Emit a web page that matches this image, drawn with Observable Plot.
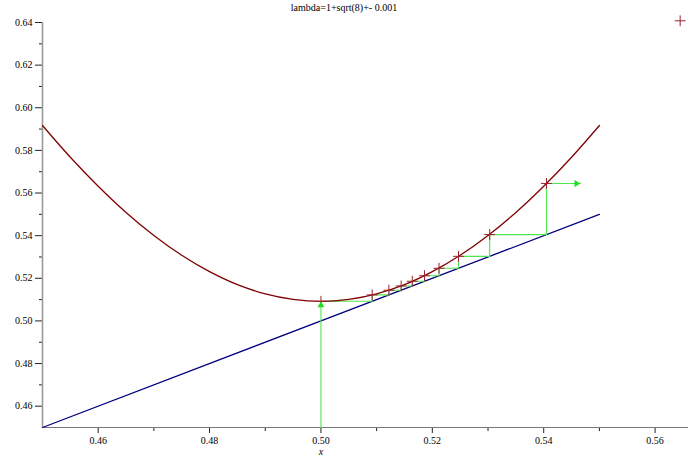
<!DOCTYPE html>
<html>
<head>
<meta charset="utf-8">
<script src="https://cdn.jsdelivr.net/npm/d3@7"></script>
<script src="https://cdn.jsdelivr.net/npm/@observablehq/plot@0.6"></script>
<style>
  html, body { margin: 0; padding: 0; background: white; }
  #wrap { position: relative; width: 688px; height: 462px; font-family: "Liberation Serif", "DejaVu Serif", serif; }
  #title { position: absolute; top: 2px; left: 0; width: 688px; text-align: center; font-size: 10px; color: #000; font-family: "Liberation Serif", "DejaVu Serif", serif; }
  #xlab { position: absolute; top: 446px; left: 316px; width: 10px; text-align: center; font-size: 10px; font-style: italic; color: #000; font-family: "Liberation Serif", "DejaVu Serif", serif; }
  #chart svg { display: block; }
  #chart svg text { font-family: "Liberation Serif", "DejaVu Serif", serif; }
</style>
</head>
<body>
<div id="wrap">
  <div id="chart"></div>
  <div id="title">lambda=1+sqrt(8)+- 0.001</div>
  <div id="xlab">x</div>
</div>
<script>
// Curve (third iterate of the logistic map)
const curveX = [0.45, 0.455, 0.46, 0.465, 0.47, 0.475, 0.48, 0.485, 0.49, 0.495, 0.50,
                0.505, 0.51, 0.515, 0.52, 0.525, 0.53, 0.535, 0.54, 0.545, 0.55];
const curveY = [0.5917, 0.5768, 0.5632, 0.5509, 0.5401, 0.5308, 0.5231, 0.5170, 0.5127, 0.5101, 0.5092,
                0.5101, 0.5127, 0.5170, 0.5231, 0.5308, 0.5401, 0.5509, 0.5632, 0.5768, 0.5917];
// Diagonal y = x
const diagX = [0.45, 0.55];
// Iterates (+ markers) on the curve
const iterX = [0.5, 0.5092, 0.5122, 0.5144, 0.5164, 0.5186, 0.5212, 0.5247, 0.5303, 0.5405, 0.5645];
const iterY = [0.5092, 0.5122, 0.5144, 0.5164, 0.5186, 0.5212, 0.5247, 0.5303, 0.5405, 0.5645, 0.6408];
const cobwebStartY = 0.45;
const lastArrowEndX = 0.5466;
// Ticks
const xMajor = [0.46, 0.48, 0.50, 0.52, 0.54, 0.56];
const xMinor = [0.47, 0.49, 0.51, 0.53, 0.55];
const yMajor = [0.46, 0.48, 0.50, 0.52, 0.54, 0.56, 0.58, 0.60, 0.62, 0.64];
const yMinor = [0.47, 0.49, 0.51, 0.53, 0.55, 0.57, 0.59, 0.61, 0.63];

const curve = curveX.map((x, i) => ({x, y: curveY[i]}));
const diag = diagX.map(x => ({x, y: x}));
const iters = iterX.map((x, i) => ({x, y: iterY[i]}));

// cobweb staircase (without the first vertical arrow and last horizontal arrow)
const cobweb = [];
for (let i = 0; i < iterX.length - 2; i++) {
  cobweb.push({x: iterX[i], y: iterY[i]});
  cobweb.push({x: iterY[i], y: iterY[i]});
  cobweb.push({x: iterX[i + 1], y: iterY[i + 1]});
}
const n = iterX.length - 2;
const firstArrow = [{x: iterX[0], y: cobwebStartY}, {x: iterX[0], y: iterY[0]}];
const lastArrow = [{x: iterX[n], y: iterY[n]}, {x: lastArrowEndX, y: iterY[n]}];

const green = "#4ee64e";
const serif = "'Liberation Serif', 'DejaVu Serif', serif";

const chart = Plot.plot({
  width: 688,
  height: 462,
  marginLeft: 42,
  marginRight: 0,
  marginTop: 22,
  marginBottom: 35,
  x: {domain: [0.45, 0.566], label: null},
  y: {domain: [0.45, 0.64], label: null},
  style: {fontFamily: serif, fontSize: "10px", background: "white", color: "#000"},
  marks: [
    Plot.axisX({ticks: xMajor, tickSize: 6, tickPadding: 3, tickFormat: d3.format(".2f"), label: null, stroke: "#222", fontFamily: serif}),
    Plot.axisX({ticks: xMinor, tickSize: 4, tickFormat: () => "", label: null, stroke: "#222"}),
    Plot.axisY({ticks: yMajor, tickSize: 7, tickPadding: 3, tickFormat: d3.format(".2f"), label: null, stroke: "#222", fontFamily: serif}),
    Plot.axisY({ticks: yMinor, tickSize: 3, tickFormat: () => "", label: null, stroke: "#222"}),
    Plot.ruleX([0.45], {stroke: "#9a9a9a", strokeWidth: 1.6}),
    Plot.ruleY([0.45], {stroke: "#777", strokeWidth: 1.2}),
    Plot.line(diag, {x: "x", y: "y", stroke: "#000080", strokeWidth: 1.3}),
    Plot.line(cobweb, {x: "x", y: "y", stroke: green, strokeWidth: 1.1}),
    Plot.line(firstArrow, {x: "x", y: "y", stroke: green, strokeWidth: 1.1}),
    Plot.line(lastArrow, {x: "x", y: "y", stroke: green, strokeWidth: 1.1}),
    Plot.line(curve, {x: "x", y: "y", stroke: "#800000", strokeWidth: 1.3, curve: "catmull-rom"}),
    Plot.dot(iters, {x: "x", y: "y", symbol: "plus", r: 3.6, stroke: "#a02030", strokeWidth: 1}),
    Plot.dot([firstArrow[1]], {x: "x", y: "y", symbol: "triangle", r: 2.6, fill: "#22dd22", stroke: "none", dy: 4}),
    Plot.dot([lastArrow[1]], {x: "x", y: "y", symbol: "triangle", r: 2.6, fill: "#22dd22", stroke: "none", rotate: 90, dx: -4})
  ]
});
document.getElementById("chart").appendChild(chart);
</script>
</body>
</html>
